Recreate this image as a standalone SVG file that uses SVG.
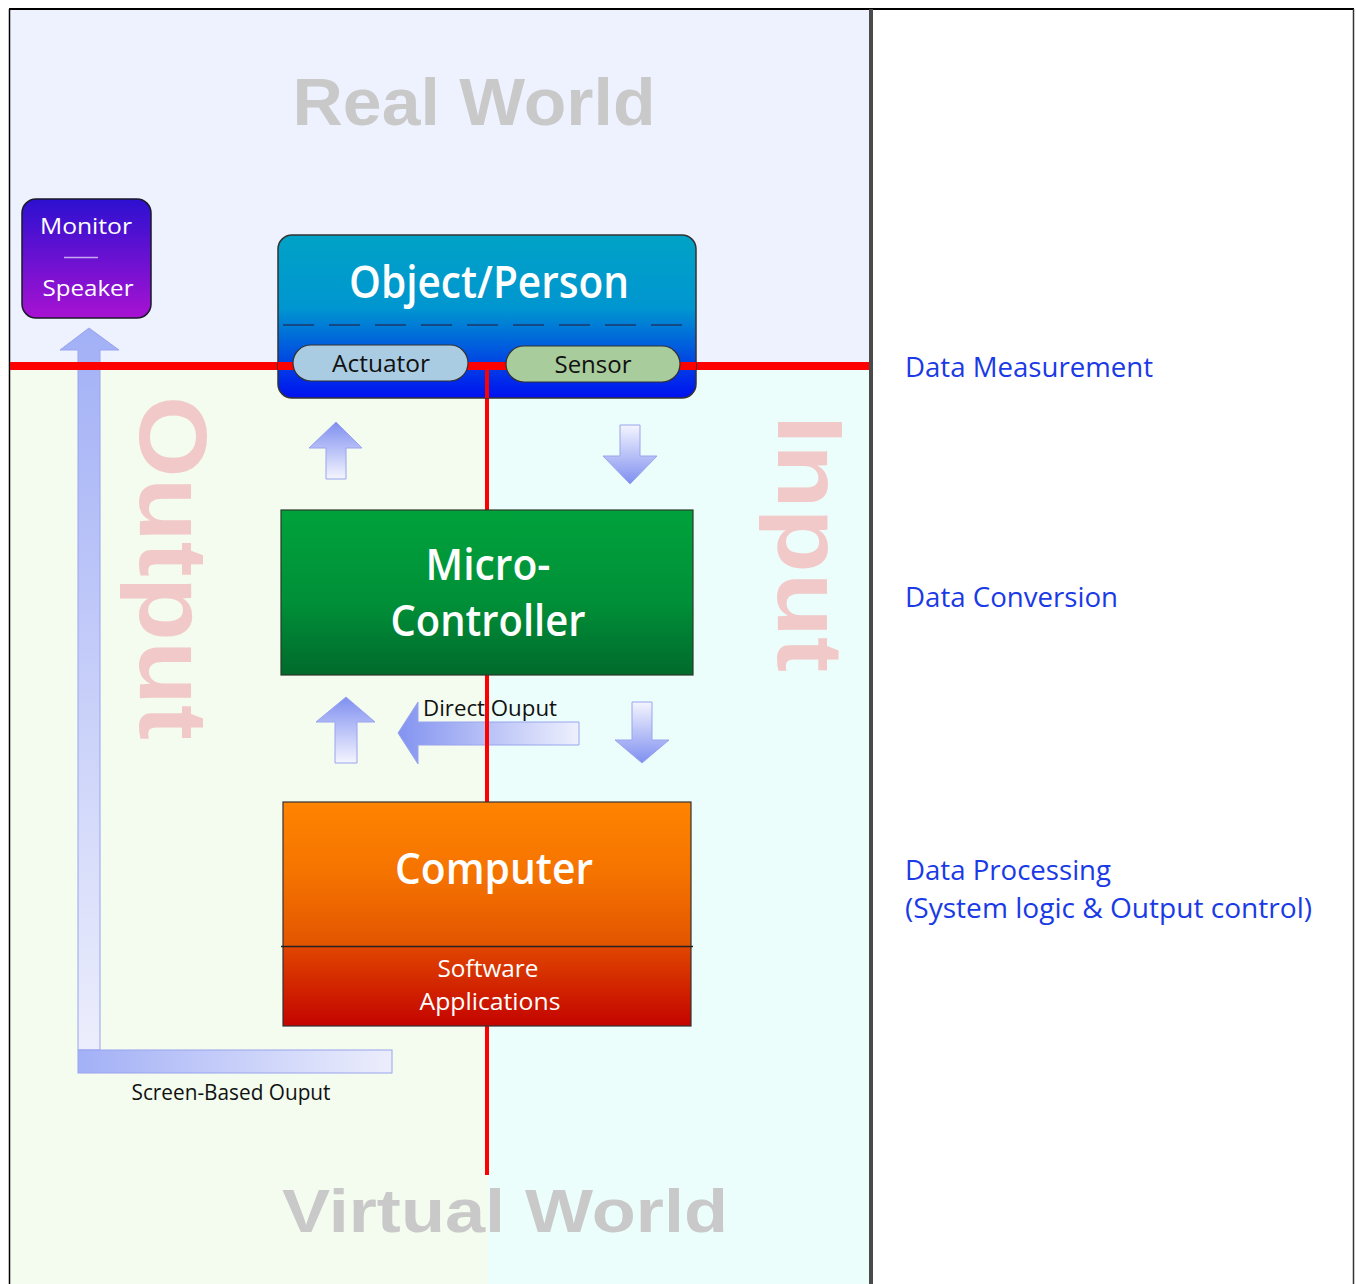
<svg xmlns="http://www.w3.org/2000/svg" width="1356" height="1284" viewBox="0 0 1356 1284">
<defs>
<style>
.lbl{font-family:"Open Sans","Liberation Sans",Arial,sans-serif;font-weight:600;fill:#ffffff;text-anchor:middle}
.lbs{font-family:"Open Sans","Liberation Sans",Arial,sans-serif;fill:#ffffff;text-anchor:middle}
.dark{font-family:"Open Sans","Liberation Sans",Arial,sans-serif;fill:#111111;text-anchor:middle}
.side{font-family:"Open Sans","Liberation Sans",Arial,sans-serif;fill:#1a3ae6;font-size:27px}
.big{font-family:"Liberation Sans",Arial,sans-serif;font-weight:bold;fill:#c9c9c9;text-anchor:middle}
.io{font-family:"Liberation Sans",Arial,sans-serif;font-weight:bold;fill:#f2c9c9}
.arr{stroke:#9aa4ee;stroke-width:1}
</style>
<linearGradient id="gObj" x1="0" y1="0" x2="0" y2="1">
<stop offset="0" stop-color="#00a2c6"/><stop offset="0.45" stop-color="#0096d0"/><stop offset="1" stop-color="#0010f0"/>
</linearGradient>
<linearGradient id="gMon" x1="0" y1="0" x2="0" y2="1">
<stop offset="0" stop-color="#2c10d0"/><stop offset="1" stop-color="#a812d2"/>
</linearGradient>
<linearGradient id="gMc" x1="0" y1="0" x2="0" y2="1">
<stop offset="0" stop-color="#00a23c"/><stop offset="0.55" stop-color="#009038"/><stop offset="1" stop-color="#006a2c"/>
</linearGradient>
<linearGradient id="gCo" x1="0" y1="0" x2="0" y2="1">
<stop offset="0" stop-color="#ff8400"/><stop offset="0.5" stop-color="#f57300"/><stop offset="1" stop-color="#e25500"/>
</linearGradient>
<linearGradient id="gSw" x1="0" y1="0" x2="0" y2="1">
<stop offset="0" stop-color="#e04600"/><stop offset="1" stop-color="#c40400"/>
</linearGradient>
<linearGradient id="gUp" x1="0" y1="0" x2="0" y2="1">
<stop offset="0" stop-color="#7f8ff0"/><stop offset="1" stop-color="#f4f5fe"/>
</linearGradient>
<linearGradient id="gDown" x1="0" y1="1" x2="0" y2="0">
<stop offset="0" stop-color="#7f8ff0"/><stop offset="1" stop-color="#f4f5fe"/>
</linearGradient>
<linearGradient id="gLeft" x1="0" y1="0" x2="1" y2="0">
<stop offset="0" stop-color="#8393f0"/><stop offset="1" stop-color="#eef0fd"/>
</linearGradient>
<linearGradient id="gTall" x1="0" y1="0" x2="0" y2="1">
<stop offset="0" stop-color="#a2b0f6"/><stop offset="1" stop-color="#eceefc"/>
</linearGradient>
<linearGradient id="gBar" x1="0" y1="0" x2="1" y2="0">
<stop offset="0" stop-color="#a2b0f6"/><stop offset="1" stop-color="#eceefc"/>
</linearGradient>
</defs>

<!-- backgrounds -->
<rect x="0" y="0" width="1356" height="1284" fill="#ffffff"/>
<rect x="10" y="9" width="860" height="358" fill="#eef2fe"/>
<rect x="10" y="366" width="478" height="918" fill="#f3fcee"/>
<rect x="488" y="366" width="382" height="918" fill="#ecfefb"/>
<line x1="9" y1="9" x2="1354" y2="9" stroke="#000" stroke-width="2"/>
<line x1="9.5" y1="9" x2="9.5" y2="1284" stroke="#000" stroke-width="1.5"/>
<line x1="1353.5" y1="9" x2="1353.5" y2="1284" stroke="#333" stroke-width="1.5"/>
<rect x="869" y="9" width="4" height="1275" fill="#4a4a4a"/>

<!-- watermark labels -->
<text class="big" x="474" y="125" font-size="66" textLength="363" lengthAdjust="spacingAndGlyphs">Real World</text>
<text class="big" x="505" y="1232" font-size="62" textLength="446" lengthAdjust="spacingAndGlyphs">Virtual World</text>
<text class="io" transform="translate(140,396) rotate(90)" font-size="97" textLength="344" lengthAdjust="spacingAndGlyphs">Output</text>
<text class="io" transform="translate(778,415) rotate(90)" font-size="93" textLength="257" lengthAdjust="spacingAndGlyphs">Input</text>

<!-- connectors -->
<g id="connectors">
<path class="arr" fill="url(#gTall)" d="M60,350 L89,328 L119,350 L100,350 L100,1050 L78,1050 L78,350 Z"/>
<rect class="arr" x="78" y="1050" width="314" height="23" fill="url(#gBar)"/>
<path class="arr" fill="url(#gUp)" d="M309,448 L336,422 L362,448 L346,448 L346,479 L326,479 L326,448 Z"/>
<path class="arr" fill="url(#gDown)" d="M620,425 L640,425 L640,456 L657,456 L630,484 L603,456 L620,456 Z"/>
<path class="arr" fill="url(#gUp)" d="M316,722 L346,697 L375,722 L357,722 L357,763 L335,763 L335,722 Z"/>
<path class="arr" fill="url(#gDown)" d="M632,702 L652,702 L652,740 L669,740 L642,763 L615,740 L632,740 Z"/>
<path class="arr" fill="url(#gLeft)" d="M398,733 L418,702 L418,722 L579,722 L579,745 L418,745 L418,764 Z"/>
<rect x="10" y="362" width="268" height="8" fill="#ff0000"/>
<rect x="696" y="362" width="173" height="8" fill="#ff0000"/>
<rect x="485" y="366" width="4" height="809" fill="#ff0000"/>
<text class="dark" x="490" y="716" font-size="21" textLength="134" lengthAdjust="spacingAndGlyphs">Direct  Ouput</text>
<text class="dark" x="231" y="1100" font-size="21" textLength="199" lengthAdjust="spacingAndGlyphs">Screen-Based Ouput</text>
</g>

<!-- nodes -->
<g id="monitor">
<rect x="22" y="199" width="129" height="119" rx="14" fill="url(#gMon)" stroke="#1a1a2a" stroke-width="1.5"/>
<text class="lbs" x="86" y="234" font-size="22" textLength="92" lengthAdjust="spacingAndGlyphs">Monitor</text>
<line x1="64" y1="257.5" x2="98" y2="257.5" stroke="#c8a8f0" stroke-width="1.5"/>
<text class="lbs" x="88" y="296" font-size="22" textLength="91" lengthAdjust="spacingAndGlyphs">Speaker</text>
</g>

<g id="object-person">
<rect x="278" y="235" width="418" height="163" rx="14" fill="url(#gObj)" stroke="#333" stroke-width="1.5"/>
<text class="lbl" x="489" y="298" font-size="45" textLength="280" lengthAdjust="spacingAndGlyphs">Object/Person</text>
<line x1="283" y1="325" x2="686" y2="325" stroke="#1a3a6a" stroke-width="1.5" stroke-dasharray="31,15"/>
<rect x="278" y="362" width="418" height="8" fill="#ff0000"/>
<rect x="485" y="366" width="4" height="32" fill="#ff0000"/>
</g>

<g id="actuator">
<rect x="293" y="345" width="175" height="36" rx="18" fill="#a9cce2" stroke="#333" stroke-width="1.2"/>
<text class="dark" x="381" y="372" font-size="23" textLength="98" lengthAdjust="spacingAndGlyphs">Actuator</text>
</g>

<g id="sensor">
<rect x="506" y="346" width="174" height="36" rx="18" fill="#a8cc9c" stroke="#333" stroke-width="1.2"/>
<text class="dark" x="593" y="373" font-size="23" textLength="77" lengthAdjust="spacingAndGlyphs">Sensor</text>
</g>

<g id="microcontroller">
<rect x="281" y="510" width="412" height="165" fill="url(#gMc)" stroke="#2a3a2a" stroke-width="1.2"/>
<text class="lbl" x="488" y="580" font-size="44" textLength="125" lengthAdjust="spacingAndGlyphs">Micro-</text>
<text class="lbl" x="488" y="636" font-size="44" textLength="195" lengthAdjust="spacingAndGlyphs">Controller</text>
</g>

<g id="computer">
<rect x="283" y="802" width="408" height="144" fill="url(#gCo)"/>
<rect x="283" y="946" width="408" height="80" fill="url(#gSw)"/>
<rect x="283" y="802" width="408" height="224" fill="none" stroke="#333" stroke-width="1.2"/>
<line x1="281" y1="946.5" x2="693" y2="946.5" stroke="#222" stroke-width="1.5"/>
<text class="lbl" x="494" y="884" font-size="44" textLength="198" lengthAdjust="spacingAndGlyphs">Computer</text>
<text class="lbs" x="488" y="977" font-size="23" textLength="101" lengthAdjust="spacingAndGlyphs">Software</text>
<text class="lbs" x="490" y="1010" font-size="23" textLength="141" lengthAdjust="spacingAndGlyphs">Applications</text>
</g>

<!-- side labels -->
<text class="side" x="905" y="377" textLength="248" lengthAdjust="spacingAndGlyphs">Data Measurement</text>
<text class="side" x="905" y="607" textLength="213" lengthAdjust="spacingAndGlyphs">Data Conversion</text>
<text class="side" x="905" y="880" textLength="206" lengthAdjust="spacingAndGlyphs">Data Processing</text>
<text class="side" x="905" y="918" textLength="407" lengthAdjust="spacingAndGlyphs">(System logic &amp; Output control)</text>
</svg>
